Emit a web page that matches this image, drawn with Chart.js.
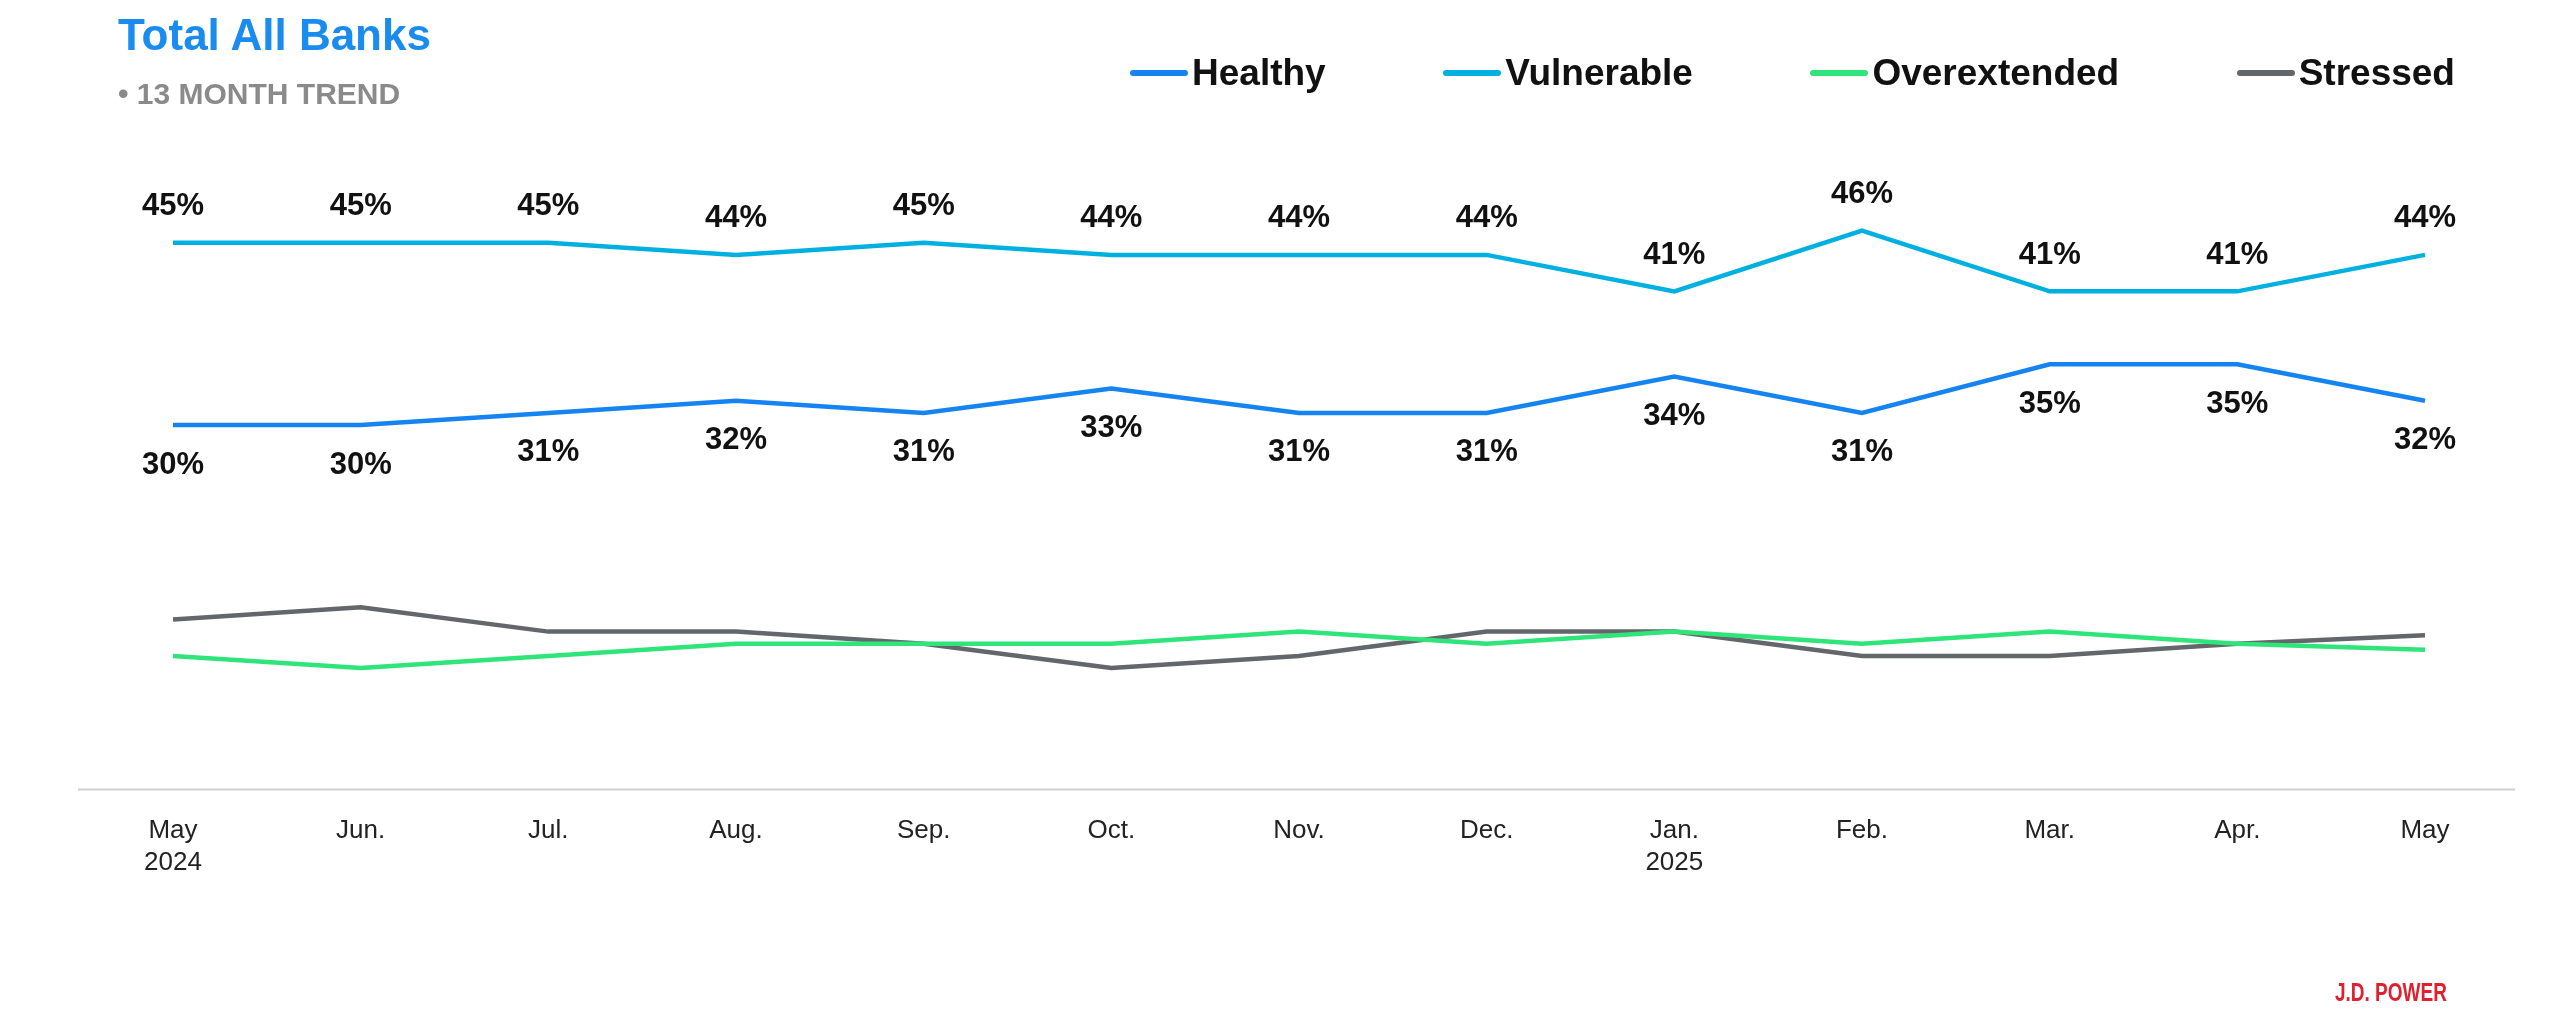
<!DOCTYPE html>
<html>
<head>
<meta charset="utf-8">
<script src="https://cdn.jsdelivr.net/npm/chart.js@4"></script>
<style>
  body { margin: 0; background: #fff; font-family: Arial, "Liberation Sans", sans-serif; }
  #wrap { position: relative; width: 2560px; height: 1009px; }
  #title { position: absolute; left: 118px; top: 10px; font-size: 44px; font-weight: bold; color: #1a8cf0; }
  #sub { position: absolute; left: 118px; top: 77px; font-size: 30px; font-weight: bold; color: #8a8a8a; }
  #legend { position: absolute; top: 52px; left: 1130px; width: 1325px; display: flex; justify-content: space-between; }
  .item { display: flex; align-items: center; font-size: 37px; font-weight: bold; color: #111; }
  .swatch { width: 58px; height: 6px; border-radius: 3px; margin-right: 4px; }
  #logo { position: absolute; left: 2335px; top: 978px; font-size: 19px; font-weight: bold; color: #e0202e; transform: scaleY(1.35); transform-origin: left top; }
</style>
</head>
<body>
<div id="wrap">
  <div id="title">Total All Banks</div>
  <div id="sub">• 13 MONTH TREND</div>
  <div id="legend"></div>
  <canvas id="trendChart" width="2560" height="1009"></canvas>
  <div id="logo">J.D. POWER</div>
</div>
<script>
// Months (multi-line labels)
const months = [['May', '2024'], 'Jun.', 'Jul.', 'Aug.', 'Sep.', 'Oct.', 'Nov.', 'Dec.', ['Jan.', '2025'], 'Feb.', 'Mar.', 'Apr.', 'May'];

// Series values (%)
const healthy = [30, 30, 31, 32, 31, 33, 31, 31, 34, 31, 35, 35, 32];
const vulnerable = [45, 45, 45, 44, 45, 44, 44, 44, 41, 46, 41, 41, 44];
const overextended = [11, 10, 11, 12, 12, 12, 13, 12, 13, 12, 13, 12, 11.5];
const stressed = [14, 15, 13, 13, 12, 10, 11, 13, 13, 11, 11, 12, 12.7];

const series = [
    { label: 'Healthy', data: healthy, color: '#1584f0', labels: 'below' },
    { label: 'Vulnerable', data: vulnerable, color: '#00b0e0', labels: 'above' },
    { label: 'Overextended', data: overextended, color: '#2fe57a', labels: null },
    { label: 'Stressed', data: stressed, color: '#63666a', labels: null }
];

// HTML legend
const legendEl = document.getElementById('legend');
series.forEach(s => {
    legendEl.insertAdjacentHTML('beforeend',
        '<div class="item"><span class="swatch" style="background:' + s.color + '"></span>' + s.label + '</div>');
});

// Value labels + baseline
const labelPlugin = {
    id: 'valueLabels',
    afterDatasetsDraw(chart) {
        const ctx = chart.ctx;
        ctx.save();
        ctx.font = 'bold 31px Arial, "Liberation Sans", sans-serif';
        ctx.fillStyle = '#111';
        ctx.textAlign = 'center';
        chart.data.datasets.forEach((ds, i) => {
            const where = series[i].labels;
            if (!where) return;
            chart.getDatasetMeta(i).data.forEach((pt, j) => {
                const dy = where === 'above' ? -36 : 40;
                ctx.textBaseline = 'middle';
                ctx.fillText(ds.data[j] + '%', pt.x, pt.y + dy);
            });
        });
        // baseline spanning wider than chart area
        const y0 = chart.scales.y.getPixelForValue(0);
        ctx.strokeStyle = '#d0d0d0';
        ctx.lineWidth = 2;
        ctx.beginPath();
        ctx.moveTo(78, y0);
        ctx.lineTo(2515, y0);
        ctx.stroke();
        ctx.restore();
    }
};

new Chart(document.getElementById('trendChart').getContext('2d'), {
    type: 'line',
    data: {
        labels: months,
        datasets: series.map(s => ({
            label: s.label,
            data: s.data,
            borderColor: s.color,
            backgroundColor: s.color,
            borderWidth: 4.5,
            pointRadius: 0,
            tension: 0
        }))
    },
    options: {
        responsive: false,
        animation: false,
        layout: { padding: { left: 173, right: 135, top: 182, bottom: 113 } },
        scales: {
            x: {
                offset: false,
                grid: { display: false },
                border: { display: false },
                ticks: {
                    color: '#222',
                    font: { size: 26, family: 'Arial, "Liberation Sans", sans-serif' },
                    maxRotation: 0,
                    autoSkip: false,
                    padding: 18
                }
            },
            y: {
                display: false,
                min: 0,
                max: 50
            }
        },
        plugins: {
            legend: { display: false },
            tooltip: { enabled: false }
        }
    },
    plugins: [labelPlugin]
});
</script>
</body>
</html>
